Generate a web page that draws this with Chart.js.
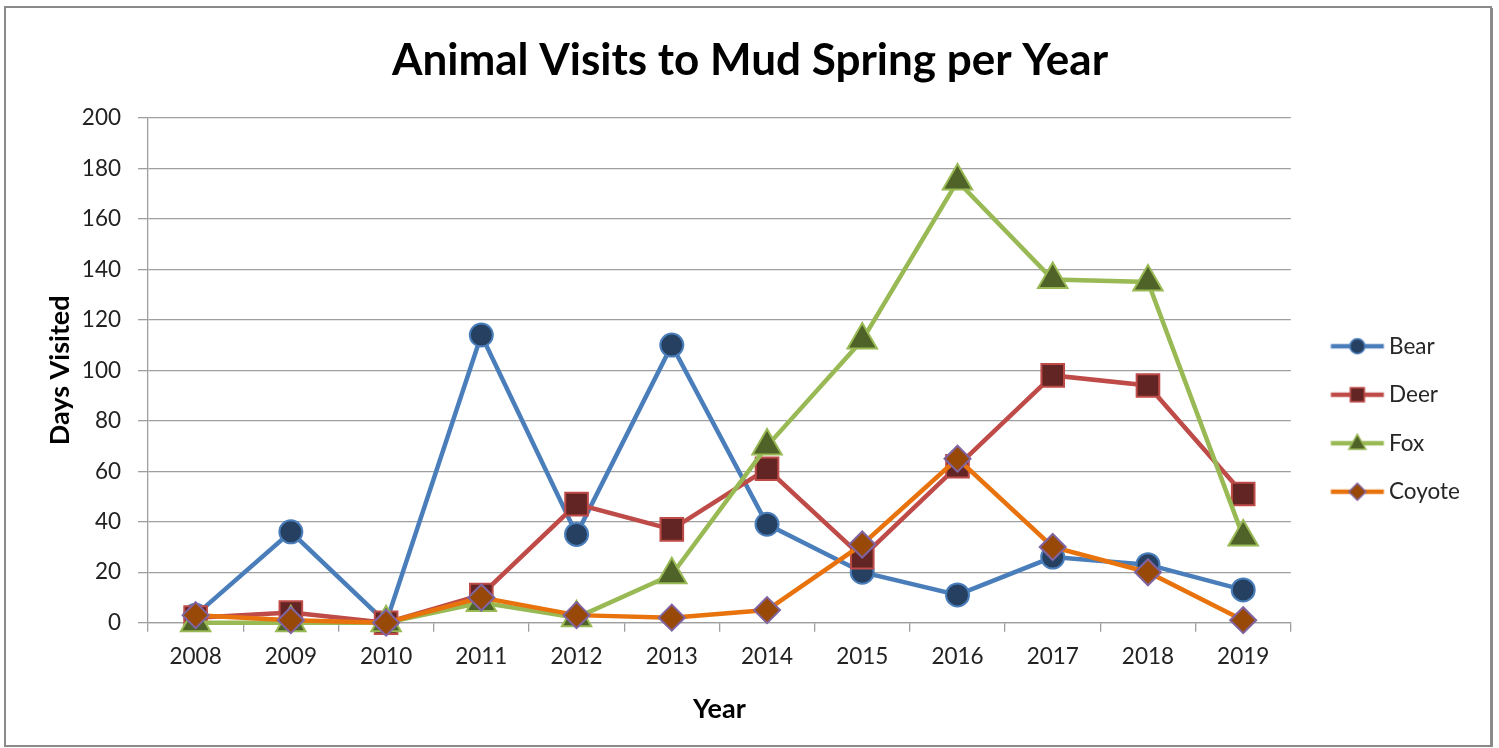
<!DOCTYPE html>
<html><head><meta charset="utf-8">
<script src="https://cdn.jsdelivr.net/npm/chart.js@4.4.1/dist/chart.umd.min.js"></script>
<style>html,body{margin:0;padding:0;background:#fff;overflow:hidden}</style>
</head><body>
<canvas id="c" width="1499" height="748"></canvas>
<script>
const years = ['2008','2009','2010','2011','2012','2013','2014','2015','2016','2017','2018','2019'];
const bear = [3, 36, 0, 114, 35, 110, 39, 20, 11, 26, 23, 13];
const deer = [2, 4, 0, 11, 47, 37, 61, 26, 62, 98, 94, 51];
const fox = [0, 0, 0, 8, 2, 19, 70, 112, 175, 136, 135, 34];
const coyote = [3, 1, 0, 10, 3, 2, 5, 31, 65, 30, 20, 1];
const seriesNames = ['Bear', 'Deer', 'Fox', 'Coyote'];

Chart.defaults.font.family = 'Lato, "Open Sans", sans-serif';

function series(label, data, line, fill, border, shape, radius, order) {
  return {
    label, data, borderColor: line, backgroundColor: fill, borderWidth: 4.5,
    pointStyle: shape, pointRadius: radius, pointHoverRadius: radius,
    pointBorderWidth: 2, pointBorderColor: border, pointBackgroundColor: fill,
    tension: 0, order, clip: false
  };
}

const datasets = [
  series(seriesNames[0], bear, '#4A7EBB', '#254061', '#4A7EBB', 'circle', 11.5, 4),
  series(seriesNames[1], deer, '#BE4B48', '#632523', '#BE4B48', 'rect', 16, 3),
  series(seriesNames[2], fox, '#98B954', '#4F6228', '#98B954', 'triangle', 17, 2),
  series(seriesNames[3], coyote, '#E8720C', '#984807', '#8064A2', 'rectRot', 13, 1)
];

function legendIcon(ds) {
  const c = document.createElement('canvas');
  c.width = 90; c.height = 30;
  const g = c.getContext('2d');
  g.strokeStyle = ds.borderColor; g.lineWidth = 4.5;
  g.beginPath(); g.moveTo(28.5, 15); g.lineTo(81.5, 15); g.stroke();
  g.fillStyle = ds.pointBackgroundColor; g.strokeStyle = ds.pointBorderColor; g.lineWidth = 1.5;
  const x = 55, y = 15;
  g.beginPath();
  if (ds.pointStyle === 'circle') { g.arc(x, y, 7.5, 0, Math.PI * 2); }
  else if (ds.pointStyle === 'rect') { g.rect(x - 7, y - 7, 14, 14); }
  else if (ds.pointStyle === 'triangle') { g.moveTo(x, y - 9); g.lineTo(x + 8.5, y + 6); g.lineTo(x - 8.5, y + 6); g.closePath(); }
  else { g.moveTo(x, y - 8.5); g.lineTo(x + 8.5, y); g.lineTo(x, y + 8.5); g.lineTo(x - 8.5, y); g.closePath(); }
  g.fill(); g.stroke();
  return c;
}

const frame = {
  id: 'frame',
  beforeDraw(chart) {
    const ctx = chart.ctx;
    ctx.save(); ctx.fillStyle = '#fff'; ctx.fillRect(0, 0, chart.width, chart.height); ctx.restore();
  },
  afterDraw(chart) {
    const ctx = chart.ctx;
    ctx.save();
    ctx.strokeStyle = '#8a8a8a'; ctx.lineWidth = 2;
    ctx.strokeRect(5, 7, 1486, 739);
    ctx.fillStyle = '#8a8a8a';
    ctx.fillRect(1491, 8, 2, 739);
    ctx.restore();
  }
};

const gridColor = '#9f9f9f';

new Chart(document.getElementById('c'), {
  type: 'line',
  data: { labels: years, datasets },
  plugins: [frame],
  options: {
    responsive: false,
    animation: false,
    events: [],
    layout: { padding: { left: 30, right: 29, top: 0, bottom: 14 } },
    plugins: {
      title: {
        display: true, text: 'Animal Visits to Mud Spring per Year',
        color: '#000', font: { size: 44, weight: 'bold' }, lineHeight: 1.2,
        padding: { top: 34, bottom: 31.2 }
      },
      legend: {
        position: 'right', fullSize: false,
        title: { display: true, text: ' ', font: { size: 12 }, padding: { top: 0, bottom: 82.9 } },
        labels: {
          usePointStyle: true, pointStyleWidth: 61, padding: 26,
          color: '#262626', font: { size: 22.5 },
          generateLabels(chart) {
            return chart.data.datasets.map((ds, i) => ({
              text: ds.label, fillStyle: ds.pointBackgroundColor, strokeStyle: ds.borderColor,
              lineWidth: 0, pointStyle: legendIcon(ds), datasetIndex: i,
              hidden: !chart.isDatasetVisible(i), fontColor: '#262626'
            }));
          }
        }
      },
      tooltip: { enabled: false }
    },
    scales: {
      x: {
        offset: true,
        grid: { offset: true, drawOnChartArea: false, drawTicks: true, tickLength: 9, color: gridColor, lineWidth: 1.3 },
        border: { color: gridColor, width: 1.3 },
        ticks: { color: '#222', font: { size: 22.5 }, padding: 12, maxRotation: 0, autoSkip: false },
        title: { display: true, text: 'Year', color: '#000', font: { size: 27, weight: 'bold' }, padding: { top: 0, bottom: 9 } },
        afterFit(scale) { scale.height = 748 - 14 - 622.7; }
      },
      y: {
        min: 0, max: 200,
        grid: { color: gridColor, lineWidth: 1.3, tickLength: 10, drawTicks: true },
        border: { color: gridColor, width: 1.3 },
        ticks: { stepSize: 20, color: '#222', font: { size: 22.5 }, padding: 17 },
        title: { display: true, text: 'Days Visited', color: '#000', font: { size: 27, weight: 'bold' }, padding: { top: 14, bottom: 0 } },
        afterFit(scale) { scale.width = 118; }
      }
    }
  }
});
</script>
</body></html>
